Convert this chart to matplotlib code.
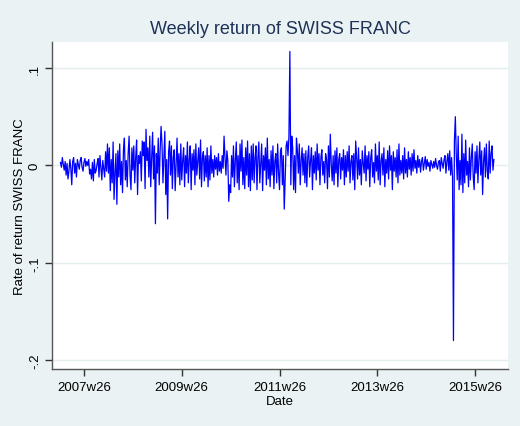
import numpy as np
import matplotlib
matplotlib.use("Agg")
import matplotlib.pyplot as plt

# Weekly returns (in thousandths), 2007w1 .. 2015w46
ret_2007 = [3, -2, 8, 1, -5, 4, -10, 2, -14, -6, 6, -3, -20, 4, 8, -8, 2, -12, 6, 1,
            -4, 5, 8, -2, -6, 3, 7, -1, 4, 0, 6, -9, -4, -14, 3, -16, 6, -8, -5, 2,
            7, -12, 10, -3, -15, 5, -4, -12, 14, -6, 22, -8]
ret_2008 = [18, -26, 6, -18, 24, -35, -8, 12, -40, 15, -12, 22, -20, 4, -28, 16, 28, -15, 5, -22,
            12, 30, -10, -25, 18, -5, 20, -18, 8, 26, -30, 10, 2, 14, -16, 25, 10, 24, -24, 37,
            5, 18, -12, 30, -22, 8, 34, -14, 20, -60, 12, -8]
ret_2009 = [28, -20, 15, 40, 22, -18, 10, 35, -30, 6, -55, 14, 25, -10, 20, -24, 8, 16, -26, 2,
            28, -12, 12, -20, 22, -15, 5, 18, -22, 10, -8, 24, -18, 6, 20, -25, 12, -5, 16, -20,
            22, -10, 4, 18, -14, 26, -22, 8, 14, -16, 10, -12]
ret_2010 = [18, -22, 10, -15, 20, -8, 6, -12, 10, -4, 8, -10, 12, -6, 4, -8, 10, -3, 30, 8,
            -10, 15, 5, -37, -20, -28, 10, -12, 20, -22, 5, 24, -18, 10, -25, 22, -6, 26, -20, 8,
            -24, 18, -10, 25, -22, 12, -26, 20, -15, 22, -18, 8]
ret_2011 = [20, -25, 8, 24, -18, 2, 22, -26, 10, -5, 18, -20, 28, -14, 6, -22, 15, -10, 20, -24,
            4, 12, -18, 22, -8, -25, 14, 18, -20, 10, -45, -15, 20, 25, 10, 30, 117, -20, 30, 18,
            -25, 10, -28, 28, 15, -8, 22, -20, 5, 18, -10, 12]
ret_2012 = [-18, 15, -22, 8, 20, -12, 5, 18, -25, 10, -8, 14, -15, 22, -5, 12, -20, 8, 16, -10,
            4, -18, 12, 6, -24, 20, -12, 32, 2, -16, 10, -20, 15, -8, 18, -22, 6, 12, -14, 8,
            -5, 16, -20, 10, -12, 14, -6, 20, -18, 4, 10, -15]
ret_2013 = [12, -25, 25, 8, -14, 18, -10, 6, -20, 15, 2, -8, 20, -16, 10, -4, 14, -22, 8, 16,
            -12, 3, -18, 22, -6, 10, -15, 24, -20, 4, 12, -10, 18, -22, 6, -8, 15, -14, 20, -5,
            10, -25, 14, -6, 8, -12, 16, -18, 22, -10, 5, -8]
ret_2014 = [10, -14, 18, -8, 6, -12, 14, -4, 8, -10, 12, -6, 16, -3, 5, -8, 10, -2, 6, -7,
            4, 8, -5, 2, 9, -4, 6, -1, 3, -6, 5, 1, -3, 4, -2, 7, 0, -4, 3, 5,
            -6, 8, 2, -3, 6, 10, -8, 4, 12, -5, 15, -10]
ret_2015 = [8, -12, -180, 25, 50, 10, -15, 30, -25, 5, -20, 32, -28, 12, -18, 26, -10, 4, -22, 18,
            -15, 8, 22, -12, -25, 14, -8, 20, -18, 6, 24, -10, 15, -30, 4, 18, -12, 22, -6, -14,
            25, -8, 12, 20, -5, 6]

returns = np.array(ret_2007 + ret_2008 + ret_2009 + ret_2010 + ret_2011 +
                   ret_2012 + ret_2013 + ret_2014 + ret_2015) / 1000.0
weeks = np.arange(len(returns))  # 0 = 2007w1

xtick_weeks = [25, 129, 233, 337, 441]
xtick_labels = ["2007w26", "2009w26", "2011w26", "2013w26", "2015w26"]
ytick_vals = [-0.2, -0.1, 0.0, 0.1]
ytick_labels = ["-.2", "-.1", "0", ".1"]

BG = "#eaf2f3"
plt.rcParams['font.family'] = ['Liberation Sans', 'DejaVu Sans']

fig = plt.figure(figsize=(5.2, 4.27), dpi=100, facecolor=BG)
ax = fig.add_axes([52/520, 57/427, 456/520, 327/427])
ax.set_facecolor("white")

ax.plot(weeks, returns, color="#0000ff", lw=0.9)

ax.set_xlim(-9, 476)
ax.set_ylim(-0.2092, 0.1267)
ax.set_yticks(ytick_vals)
ax.set_yticklabels(ytick_labels, rotation=90, va="center", fontsize=9.5)
ax.set_xticks(xtick_weeks)
ax.set_xticklabels(xtick_labels, fontsize=9.5)
ax.grid(axis="y", color="#e3ecee", lw=1.0)
ax.set_axisbelow(True)

for s in ["top", "right"]:
    ax.spines[s].set_visible(False)
for s in ["left", "bottom"]:
    ax.spines[s].set_color("#555555")
    ax.spines[s].set_linewidth(1.0)
ax.tick_params(axis="both", length=5, width=1.0, color="#333333", labelcolor="black")
ax.tick_params(axis="x", pad=4)
ax.tick_params(axis="y", pad=3)

ax.set_xlabel("Date", fontsize=9.5, labelpad=1)
ax.set_ylabel("Rate of return SWISS FRANC", fontsize=9.5, labelpad=2)
fig.suptitle("Weekly return of SWISS FRANC", x=280/520, y=1 - 30/427, va="center",
             fontsize=13, color="#1e3257")

fig.savefig("out.png", dpi=100, facecolor=BG)
